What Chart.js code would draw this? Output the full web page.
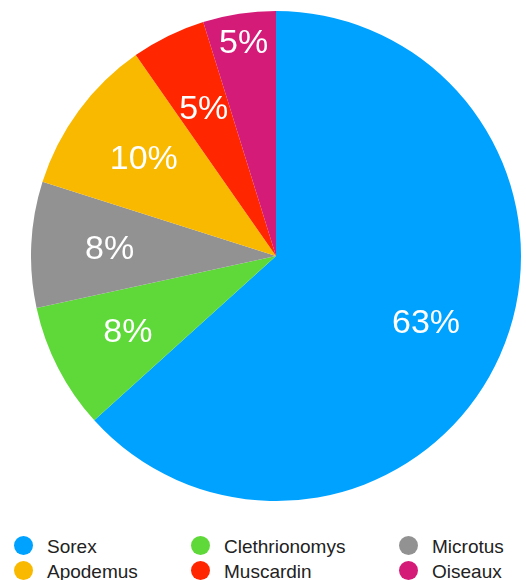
<!DOCTYPE html>
<html>
<head>
<meta charset="utf-8">
<script src="https://cdn.jsdelivr.net/npm/chart.js@4/dist/chart.umd.min.js"></script>
<style>
    html, body { margin: 0; padding: 0; background: #fff; }
    body { width: 526px; height: 580px; position: relative; overflow: hidden; font-family: "Liberation Sans", Arial, sans-serif; }
    #pieWrap { position: absolute; left: 31px; top: 11px; width: 490px; height: 490px; }
    #legend { position: absolute; left: 0; top: 534px; width: 526px; }
    .legend-item { position: absolute; font-size: 19px; color: #222; line-height: 25px; white-space: nowrap; }
    .legend-dot { position: absolute; left: 0; top: 2px; width: 19px; height: 19px; border-radius: 50%; }
    .legend-text { position: absolute; left: 33px; top: 0; }
</style>
</head>
<body>
<div id="pieWrap"><canvas id="pieChart"></canvas></div>
<div id="legend"></div>

<script>
    // Data
    const species = ["Sorex", "Clethrionomys", "Microtus", "Apodemus", "Muscardin", "Oiseaux"];
    const shares = [63.3, 8.3, 8.3, 10.4, 4.9, 4.8];
    const sliceColors = ["#00a2ff", "#5fd93a", "#929292", "#f9b900", "#ff2600", "#d41b78"];

    // legend: rows of three
    const legendCols = [14, 191, 399];

    const legendEl = document.getElementById("legend");
    species.forEach((name, n) => {
        const item = document.createElement("div");
        item.className = "legend-item";
        item.style.left = legendCols[n % 3] + "px";
        item.style.top = (Math.floor(n / 3) * 25) + "px";
        item.innerHTML = '<span class="legend-dot" style="background:' + sliceColors[n] + '"></span>' +
            '<span class="legend-text">' + name + '</span>';
        legendEl.appendChild(item);
    });

    // Percent labels drawn on slices
    const sliceLabels = {
        id: "sliceLabels",
        afterDatasetsDraw(chart, args, opts) {
            const ctx = chart.ctx;
            const meta = chart.getDatasetMeta(0);
            const total = shares.reduce((a, b) => a + b, 0);
            ctx.save();
            ctx.fillStyle = "#fff";
            ctx.font = "34px 'Liberation Sans', Arial, sans-serif";
            ctx.textAlign = "center";
            ctx.textBaseline = "middle";
            meta.data.forEach((arc, i) => {
                const mid = (arc.startAngle + arc.endAngle) / 2;
                const f = (opts.radiusFactor && opts.radiusFactor[i]) || 0.67;
                const r = arc.outerRadius * f;
                const x = arc.x + Math.cos(mid) * r;
                const y = arc.y + Math.sin(mid) * r;
                ctx.fillText(Math.round(shares[i] / total * 100) + "%", x, y + 1);
            });
            ctx.restore();
        }
    };

    new Chart(document.getElementById("pieChart"), {
        type: "pie",
        data: {
            labels: species,
            datasets: [{
                data: shares,
                backgroundColor: sliceColors,
                borderWidth: 0
            }]
        },
        options: {
            responsive: true,
            maintainAspectRatio: false,
            animation: false,
            layout: { padding: 0 },
            plugins: {
                legend: { display: false },
                tooltip: { enabled: false },
                sliceLabels: { radiusFactor: [0.67, 0.68, 0.68, 0.67, 0.67, 0.88] }
            }
        },
        plugins: [sliceLabels]
    });
</script>
</body>
</html>
